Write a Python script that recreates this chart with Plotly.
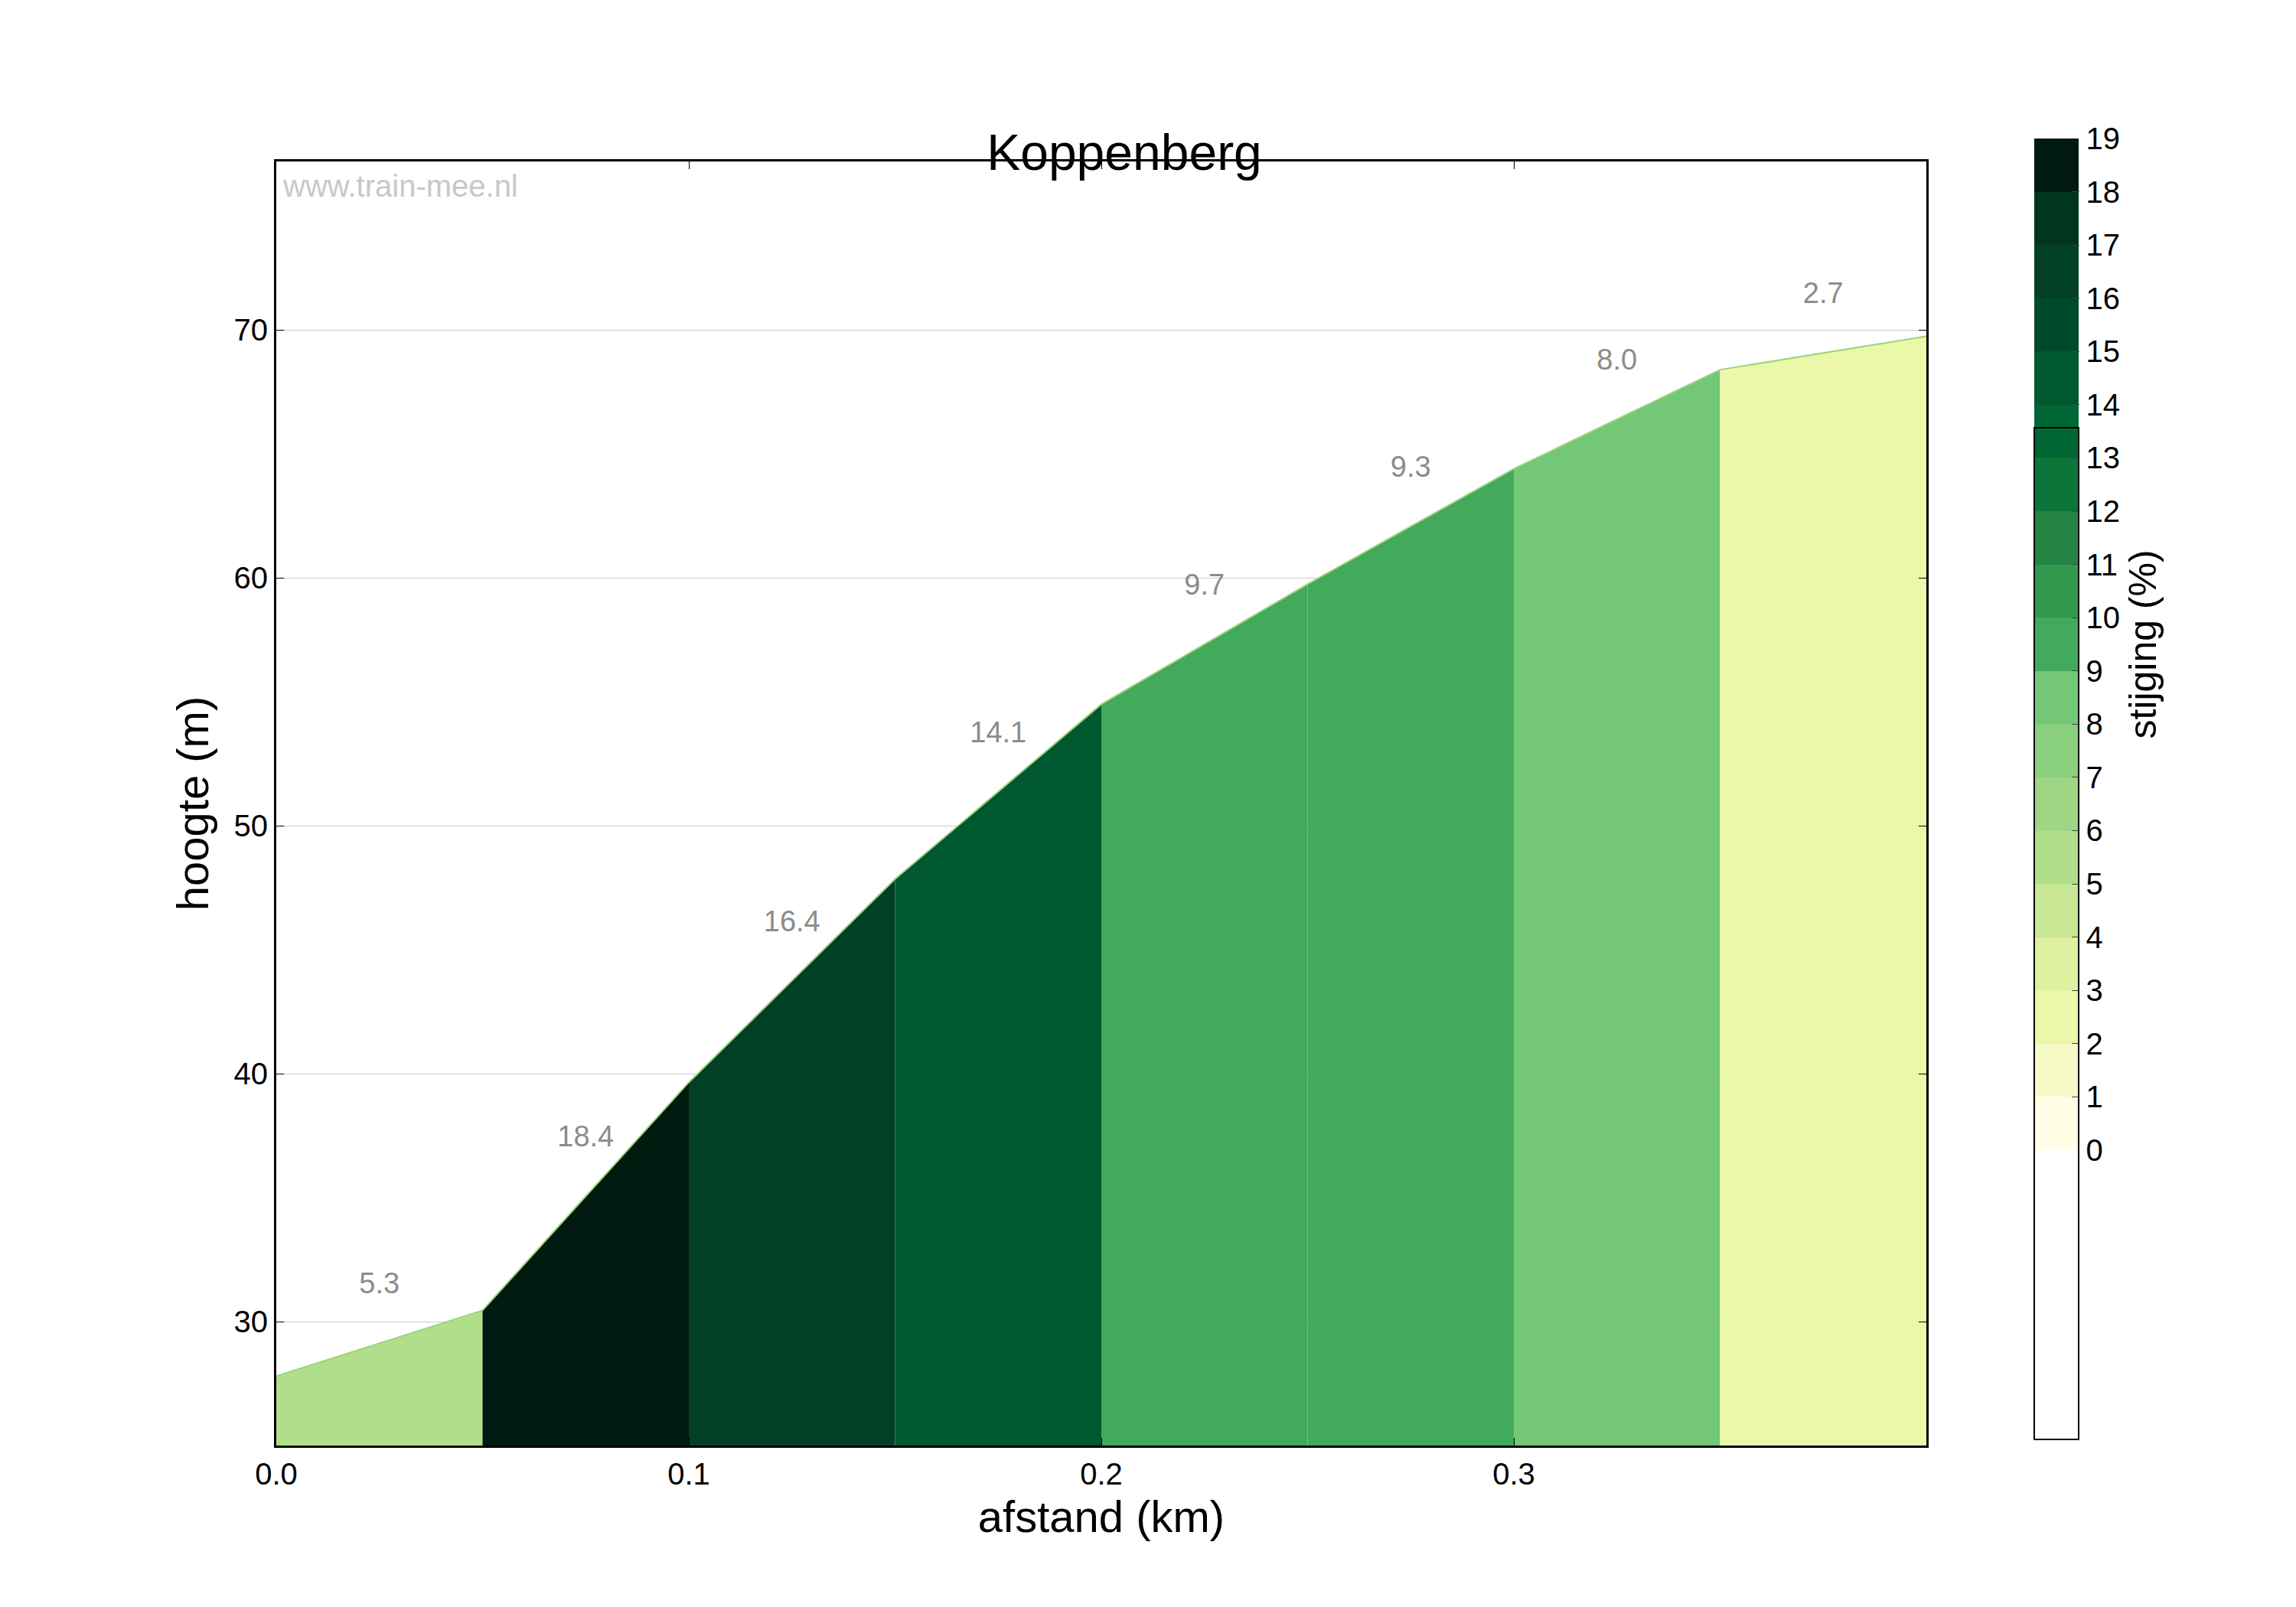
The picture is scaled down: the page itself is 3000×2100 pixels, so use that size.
import plotly.graph_objects as go
import plotly.express as px

# distance (km) and height (m) at each 50 m point
afstand = [0.0, 0.05, 0.1, 0.15, 0.2, 0.25, 0.3, 0.35, 0.4]
hoogte = [27.8, 30.45, 39.65, 47.85, 54.9, 59.75, 64.4, 68.4, 69.75]
stijging = [5.3, 18.4, 16.4, 14.1, 9.7, 9.3, 8.0, 2.7]

# colour anchors (gradient %, colour)
anchor_vals = [0, 2, 3, 5, 7, 8, 9, 11, 12.5, 15, 17, 18]
anchor_cols = ["#fffde5", "#ebf7a9", "#dff1a0", "#b1de8a", "#8acf7e", "#74c777",
               "#42aa5a", "#238443", "#006d36", "#004a2c", "#02351f", "#011a10"]

n_bins = 19
scale = [[v / 18, c] for v, c in zip(anchor_vals, anchor_cols)]
bin_colors = px.colors.sample_colorscale(scale, [i / 18 for i in range(n_bins)])

def color_for(g):
    return bin_colors[min(int(g), n_bins - 1)]

font = "Liberation Sans, Arial, sans-serif"
fig = go.Figure()

for i, g in enumerate(stijging):
    x0, x1 = afstand[i], afstand[i + 1]
    y0, y1 = hoogte[i], hoogte[i + 1]
    c = color_for(g)
    fig.add_trace(go.Scatter(
        x=[x0, x0, x1, x1, x0], y=[0, y0, y1, 0, 0],
        fill="toself", fillcolor=c, mode="lines",
        line=dict(width=0, color=c), showlegend=False, hoverinfo="skip"))

# thin outline on top
fig.add_trace(go.Scatter(x=afstand, y=hoogte, mode="lines",
                         line=dict(color="#9bd47c", width=2), showlegend=False))

# gradient labels
fig.add_trace(go.Scatter(
    x=[(afstand[i] + afstand[i + 1]) / 2 for i in range(len(stijging))],
    y=[(hoogte[i] + hoogte[i + 1]) / 2 + 2.3 for i in range(len(stijging))],
    text=[f"{g:.1f}" for g in stijging], mode="text",
    textfont=dict(family=font, size=38, color="#8c8c8c"), showlegend=False))

# discrete colorbar
cs = []
for i in range(n_bins):
    cs.append([i / n_bins, bin_colors[i]])
    cs.append([(i + 1) / n_bins, bin_colors[i]])
fig.add_trace(go.Scatter(
    x=[None], y=[None], mode="markers", showlegend=False,
    marker=dict(color=[0], cmin=0, cmax=19, colorscale=cs, showscale=True,
                colorbar=dict(xref="container", yref="container",
                              x=0.88, xanchor="left", y=0.503, yanchor="middle",
                              len=0.80, lenmode="fraction", thickness=58,
                              outlinecolor="black", outlinewidth=2,
                              tickvals=list(range(20)), ticks="inside", ticklen=10,
                              tickfont=dict(family=font, size=40, color="black"),
                              title=dict(text="stijging (%)", side="right",
                                         font=dict(family=font, size=50, color="black"))))))

fig.add_annotation(text="www.train-mee.nl", xref="paper", yref="paper", x=0.003, y=0.995,
                   xanchor="left", yanchor="top", showarrow=False,
                   font=dict(family=font, size=40, color="#c8c8c8"))

axis_common = dict(showline=True, linecolor="black", linewidth=3, mirror="ticks",
                   ticks="inside", ticklen=10, tickcolor="black",
                   tickfont=dict(family=font, size=40, color="black"), zeroline=False)

fig.update_layout(
    width=3000, height=2100, plot_bgcolor="white", paper_bgcolor="white",
    margin=dict(l=353, r=491, t=203, b=219),
    title=dict(text="Koppenberg", x=0.487, xanchor="center", y=0.92,
               font=dict(family=font, size=66, color="black")),
    xaxis=dict(range=[0, 0.4], tickvals=[0, 0.1, 0.2, 0.3], tickformat=".1f",
               showgrid=False,
               title=dict(text="afstand (km)", font=dict(family=font, size=58, color="black")),
               **axis_common),
    yaxis=dict(range=[25, 76.8], tickvals=[30, 40, 50, 60, 70], showgrid=True,
               gridcolor="#cccccc", gridwidth=1,
               title=dict(text="hoogte (m)", font=dict(family=font, size=58, color="black")),
               **axis_common),
)

fig.write_html("out.html")
